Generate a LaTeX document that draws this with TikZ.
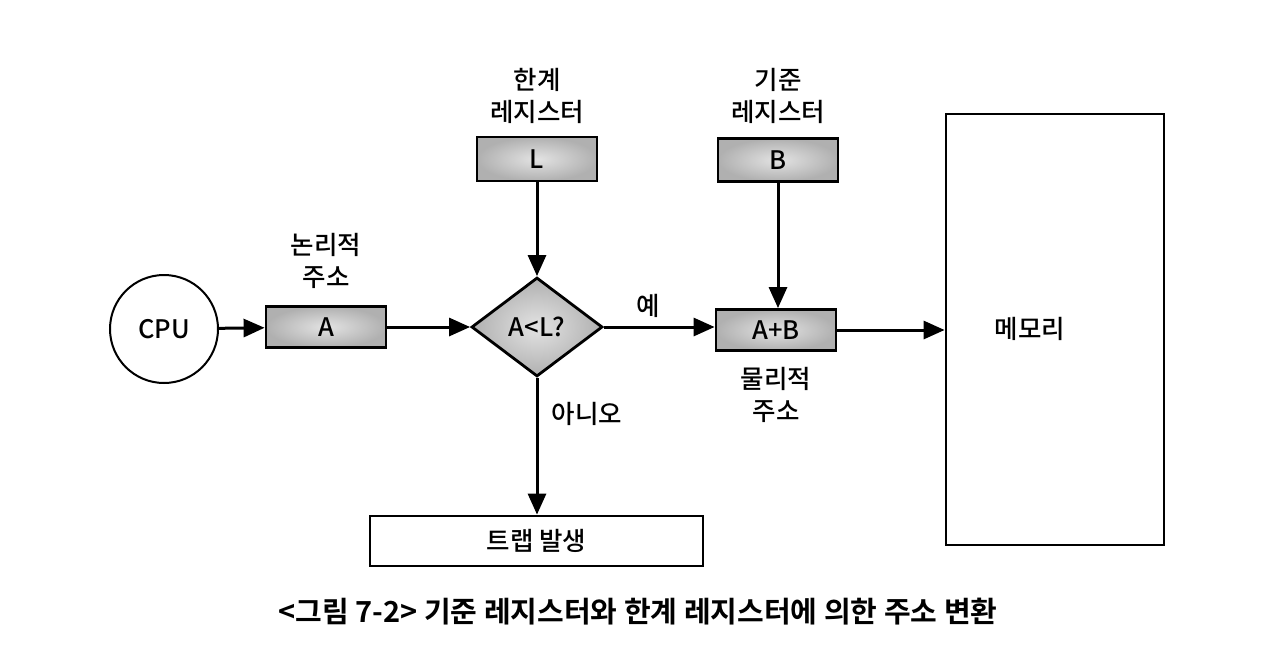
\documentclass[tikz,border=0pt]{standalone}
\usepackage{fontspec}
\setmainfont{Noto Sans CJK KR Medium}
\newfontfamily\capfont{Noto Sans CJK KR Bold}
\usetikzlibrary{shapes.geometric,arrows.meta}
\begin{document}
\begin{tikzpicture}[x=1pt,y=-1pt,
  every node/.style={font=\fontsize{25.5}{30}\selectfont},
  reg/.style={draw=black,line width=2.8pt,inner color=gray!22,outer color=gray!62,minimum width=120pt,minimum height=41pt,inner sep=0pt},
  plain/.style={draw=black,line width=2.8pt,fill=white,inner sep=0pt},
  lbl/.style={align=center,inner sep=0pt,font=\fontsize{25.5}{32}\selectfont},
  arr/.style={line width=3pt,-{Triangle[length=21pt,width=18pt]}}]
\useasboundingbox (0,0) rectangle (1280,654);
\node[draw=black,line width=2pt,circle,minimum size=108pt,inner sep=0pt] (cpu) at (164,329) {CPU};
\node[reg] (a) at (326,327) {A};
\node[lbl] (alab) at (326,261) {논리적\\주소};
\node[draw=black,line width=2.8pt,diamond,inner color=gray!22,outer color=gray!62,minimum width=131pt,minimum height=99pt,inner sep=0pt,aspect=1.32] (d) at (537,327) {A<L?};
\node[reg,minimum height=44pt] (l) at (537,159) {L};
\node[lbl] (llab) at (537,96) {한계\\레지스터};
\node[reg,minimum height=43pt] (b) at (778,160) {B};
\node[lbl] (blab) at (778,96) {기준\\레지스터};
\node[reg] (ab) at (776,330) {A+B};
\node[lbl] (plab) at (776,395) {물리적\\주소};
\node[inner sep=0pt] (yes) at (648,306) {예};
\node[inner sep=0pt] (no) at (587,414) {아니오};
\node[plain,minimum width=218pt,minimum height=431pt] (mem) at (1055,329.5) {};
\node[inner sep=0pt] (memlab) at (1030,329) {메모리};
\node[plain,minimum width=333pt,minimum height=50pt] (trap) at (536.5,541) {트랩 발생};
\node[inner sep=0pt,font=\capfont\fontsize{29}{34}\selectfont] (cap) at (638,612) {<그림 7-2> 기준 레지스터와 한계 레지스터에 의한 주소 변환};
\draw[arr] (cpu) -- (a);
\draw[arr] (a) -- (d);
\draw[arr] (l) -- (d);
\draw[arr] (d.east) -- (ab.west|-d.east);
\draw[arr] (b) -- (ab.north-|b);
\draw[arr] (ab.east) -- (mem.west|-ab.east);
\draw[arr] (d) -- (trap.north-|d);
\end{tikzpicture}
\end{document}
